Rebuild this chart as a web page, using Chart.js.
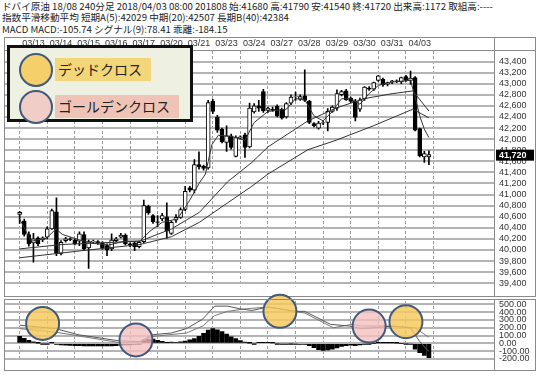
<!DOCTYPE html>
<html>
<head>
<meta charset="utf-8">
<script src="https://cdn.jsdelivr.net/npm/chart.js@4.4.0/dist/chart.umd.min.js"></script>
<style>
  body { margin: 0; width: 541px; height: 382px; position: relative; overflow: hidden; background: #fff;
         font-family: "Noto Sans CJK JP", sans-serif; }
  .hdr { position: absolute; left: 2px; font-size: 9.6px; line-height: 11px; color: #222; white-space: nowrap; }
  canvas { position: absolute; left: 4px; }
  #main { top: 37px; }
  #macd { top: 280px; }
  #legend { position: absolute; left: 7px; top: 45px; width: 180px; height: 71px; border: 3px solid #111;
            background: #eef0e2; }
  .dot { position: absolute; left: 9px; width: 30px; height: 30px; border-radius: 50%; border: 2px solid #41597a; }
  .tag { position: absolute; left: 45px; height: 23px; line-height: 23px; font-size: 14px; color: #222; padding: 0 9px 0 3px; }
</style>
</head>
<body>
<div class="hdr" style="top:1px">ドバイ原油 18/08 240分足 2018/04/03 08:00 201808 始:41680 高:41790 安:41540 終:41720 出来高:1172 取組高:----</div>
<div class="hdr" style="top:12px">指数平滑移動平均 短期A(5):42029 中期(20):42507 長期B(40):42384</div>
<div class="hdr" style="top:24px">MACD MACD:-105.74 シグナル(9):78.41 乖離:-184.15</div>
<canvas id="main" width="532" height="260"></canvas>
<canvas id="macd" width="532" height="91"></canvas>
<div id="legend">
  <div class="dot" style="top:5px;background:#f5cf6a"></div>
  <div class="tag" style="top:10px;background:#f3d67a">デッドクロス</div>
  <div class="dot" style="top:42px;background:#f0cdc6"></div>
  <div class="tag" style="top:47px;background:#efc4b6">ゴールデンクロス</div>
</div>
<script>
// trading days (label sits on the first 4h bar of the day)
const dayLabels = ['03/13','03/14','03/15','03/16','03/17','03/20','03/21','03/23','03/24','03/27','03/28','03/29','03/30','03/31','04/03'];
const dayStart = [3, 9, 15, 21, 27, 33, 39, 45, 51, 57, 63, 69, 75, 81, 87];

// 240-minute bars
const opens = [40640,40520,40280,40130,40220,40180,40230,40380,40690,39940,
  40170,40200,40180,40160,40280,40040,40150,40150,40120,40080,
  40020,40170,40230,40270,40110,40130,40060,40150,40790,40620,
  40510,40560,40600,40300,40540,40590,40730,41120,41080,41540,
  41510,41480,42680,42400,42180,41940,42060,41690,42020,42080,
  41860,42490,42600,42860,42520,42540,42590,42540,42400,42650,
  42760,42720,42780,42680,42280,42200,42290,42300,42500,42560,
  42800,42870,42740,42680,42540,42730,42920,42900,43060,43080,
  42990,43030,43050,43030,43130,43060,43110,42190,41680,41680];
const highs = [40700,40560,40330,40300,40240,40240,40420,40740,40940,40170,
  40230,40220,40200,40330,40330,40180,40180,40170,40150,40110,
  40290,40230,40300,40290,40130,40150,40160,40900,40810,40640,
  40620,40660,40850,40520,40640,40760,41150,41150,41630,41770,
  41530,42700,42720,42430,42200,42240,42090,42060,42060,42110,
  42650,42640,42700,42900,42580,42580,42620,42560,42660,42800,
  42850,42800,43250,42700,42300,42320,42330,42550,42600,42890,
  42880,42900,42760,42720,42740,42950,42950,43030,43150,43100,
  43030,43060,43070,43120,43150,43230,43130,42200,41780,41790];
const lows = [40480,40250,40070,39780,40080,40150,40200,40370,39900,39910,
  40140,40170,40090,40080,39990,39670,40120,40100,40010,39900,
  39990,40150,40220,40090,40060,39990,40040,40130,40640,40480,
  40420,40530,40210,40280,40500,40570,40710,41050,41030,41460,
  41440,41460,42460,42120,41930,41780,41820,41680,42000,41670,
  41840,42470,42500,42480,42480,42500,42400,42360,42380,42620,
  42700,42700,42680,42280,42220,42180,42260,42150,42480,42520,
  42780,42700,42660,42330,42500,42700,42880,42880,43040,42950,
  42960,43000,43020,43000,43040,42990,42150,41680,41580,41540];
const closes = [40680,40280,40110,40200,40110,40220,40380,40710,39940,40140,
  40200,40190,40110,40290,40020,40150,40160,40130,40040,40000,
  40180,40200,40270,40110,40090,40060,40140,40800,40670,40510,
  40500,40620,40340,40500,40590,40730,41060,41080,41540,41500,
  41470,42660,42500,42160,41950,42060,41850,42030,42040,41850,
  42560,42600,42560,42510,42560,42520,42420,42380,42640,42760,
  42770,42770,42700,42300,42240,42290,42300,42500,42580,42820,
  42860,42710,42680,42390,42710,42940,42900,43020,43140,42980,
  43020,43050,43040,43110,43060,43100,42160,41700,41740,41720];

// moving averages: [bar, price]
const ema5 = [[0,40560],[2.5,40160],[5.8,40210],[7.9,40380],[9.3,40280],[12.7,40190],[16,40120],[19.4,40090],
  [22.9,40160],[26.2,40160],[28.2,40330],[31,40500],[34.3,40560],[37,40900],[39,41200],[40.4,41370],
  [41.8,41900],[43.2,42070],[46,42050],[49,41980],[51,42300],[54,42500],[58,42540],[60,42730],[62,42710],
  [64,42420],[66,42330],[68,42500],[70,42730],[72,42730],[74,42630],[76,42820],[78,42970],[81,43030],
  [85,43060],[86,42760],[87,42420],[88,42180],[89,42029]];
const ema20 = [[0,40020],[9.3,40100],[26.2,40160],[33,40380],[39.1,40680],[45.2,41230],[50.5,41580],[54,41860],
  [62.7,42330],[68.8,42560],[74.9,42730],[81,42820],[85.5,42870],[89,42507]];
const ema40 = [[0,39860],[12.7,39980],[26.2,40100],[33,40240],[39.1,40500],[45.2,40850],[50.5,41150],[54,41370],
  [62.7,41810],[68.8,41980],[76.9,42240],[85.5,42540],[89,42384]];

// MACD panel
const macdLine = [[0,233],[7.8,189],[12.7,111],[21.5,33],[26.1,22],[29,111],[33,133],[36.3,189],[39.8,311],
  [42.4,478],[45.2,478],[47.9,444],[50.5,422],[54,467],[60,411],[62,411],[67.6,244],[71.7,222],[74.3,189],
  [77,200],[81,222],[85,200],[87,22],[89,-105.74]];
const signalLine = [[0,189],[7.8,144],[21.5,11],[26.1,22],[29,89],[36.3,133],[39.8,222],[42.4,356],[45.2,411],
  [49.3,444],[54,467],[62,389],[68.2,200],[72.3,244],[74.3,222],[81,222],[85.9,200],[89,78.41]];
const macdHist = [90,65,40,20,2,-8,-6,5,-12,-22,
  -25,-28,-30,-30,-32,-33,-33,-32,-33,-34,
  -32,-30,-25,-22,-20,-15,-10,35,50,55,
  40,25,10,15,12,20,30,45,60,90,
  130,170,190,175,150,120,85,60,35,15,
  2,-5,8,10,8,5,-8,-10,-10,-8,
  -10,-12,-15,-30,-55,-80,-90,-85,-75,-60,
  -40,-30,-25,-30,-20,-10,-5,0,5,6,
  4,5,3,0,-5,-10,-75,-120,-155,-184.15];

// dead / golden cross marks: [bar, MACD value]
const crossMarks = [{at: [5, 256], kind: 'dead'}, {at: [25.3, 44], kind: 'golden'}, {at: [56.6, 411], kind: 'dead'},
  {at: [76, 222], kind: 'golden'}, {at: [84, 278], kind: 'dead'}];

const tickFont = { family: 'Liberation Sans', size: 9 };
const xRange = { min: 0.15, max: 99.6 };
const pts = arr => arr.map(p => ({ x: p[0], y: p[1] }));

const framePlugin = {
  id: 'frame',
  afterDraw(chart, args, opts) {
    const { ctx, chartArea: a, width, height } = chart;
    ctx.save();
    ctx.strokeStyle = '#8a8a8a';
    ctx.lineWidth = 1;
    ctx.strokeRect(0.5, opts.top + 0.5, width - 1, height - opts.top - 1);
    ctx.beginPath();
    ctx.moveTo(Math.round(a.right) + 0.5, opts.top);
    ctx.lineTo(Math.round(a.right) + 0.5, height);
    if (opts.header) {
      ctx.moveTo(0, Math.round(a.top) - 0.5);
      ctx.lineTo(width, Math.round(a.top) - 0.5);
    }
    ctx.stroke();
    ctx.restore();
  }
};

const priceTag = {
  id: 'priceTag',
  afterDraw(chart) {
    const { ctx, chartArea: a, scales } = chart;
    const last = closes[closes.length - 1];
    const y = scales.y.getPixelForValue(last);
    ctx.save();
    ctx.fillStyle = '#000';
    ctx.fillRect(a.right + 2, y - 5, 38, 11);
    ctx.fillStyle = '#fff';
    ctx.font = 'bold 9px "Liberation Sans"';
    ctx.textBaseline = 'middle';
    ctx.fillText(last.toLocaleString('en-US'), a.right + 5, y + 0.5);
    ctx.restore();
  }
};

const crossPlugin = {
  id: 'cross',
  afterDatasetsDraw(chart) {
    const { ctx, scales } = chart;
    ctx.save();
    crossMarks.forEach(m => {
      const px = scales.x.getPixelForValue(m.at[0]);
      const py = scales.y.getPixelForValue(m.at[1]);
      ctx.beginPath();
      ctx.arc(px, py, 16.5, 0, Math.PI * 2);
      ctx.fillStyle = m.kind === 'dead' ? 'rgba(245,200,90,0.82)' : 'rgba(245,190,190,0.78)';
      ctx.fill();
      ctx.lineWidth = 2;
      ctx.strokeStyle = '#41597a';
      ctx.stroke();
    });
    ctx.restore();
  }
};

const dayAxis = (showLabels, height) => ({
  type: 'linear', min: xRange.min, max: xRange.max,
  position: showLabels ? 'top' : 'bottom',
  afterBuildTicks(s) { s.ticks = dayStart.map(v => ({ value: v })); },
  afterFit(s) { s.height = height; },
  ticks: { display: showLabels, autoSkip: false, maxRotation: 0, padding: 2, font: tickFont, color: '#333',
           callback: (v, i) => dayLabels[i] },
  grid: { color: '#9a9a9a', lineWidth: 1, drawTicks: false },
  border: { display: false, dash: [3, 2] }
});

const valueAxis = (min, max, step, fmt) => ({
  position: 'right', min: min, max: max,
  afterFit(s) { s.width = 42; },
  ticks: { stepSize: step, includeBounds: false, autoSkip: false, padding: 5, font: tickFont, color: '#333',
           callback: fmt },
  grid: { color: '#b4b4b4', lineWidth: 2, drawTicks: false },
  border: { display: false }
});

new Chart(document.getElementById('main'), {
  type: 'bar',
  data: {
    datasets: [
      { type: 'line', data: pts(ema5), borderColor: '#333', borderWidth: 1, pointRadius: 0, order: -3 },
      { type: 'line', data: pts(ema20), borderColor: '#333', borderWidth: 1, pointRadius: 0, order: -2 },
      { type: 'line', data: pts(ema40), borderColor: '#333', borderWidth: 1, pointRadius: 0, order: -1 },
      { data: opens.map((o, i) => ({ x: i, y: [lows[i], highs[i]] })), backgroundColor: '#000',
        barThickness: 1, grouped: false, order: 2 },
      { data: opens.map((o, i) => ({ x: i, y: [o, closes[i]] })),
        backgroundColor: c => closes[c.dataIndex] < opens[c.dataIndex] ? '#000' : '#fff',
        borderColor: '#000', borderWidth: 1, borderSkipped: false, barThickness: 4, grouped: false, order: 1 }
    ]
  },
  options: {
    responsive: false, animation: false,
    layout: { padding: 0 },
    plugins: { legend: { display: false }, tooltip: { enabled: false }, frame: { top: 0, header: true } },
    scales: {
      x: dayAxis(true, 14),
      y: valueAxis(39340, 43590, 200, v => v.toLocaleString('en-US'))
    }
  },
  plugins: [framePlugin, priceTag]
});

new Chart(document.getElementById('macd'), {
  type: 'bar',
  data: {
    datasets: [
      { type: 'line', data: pts(macdLine), borderColor: '#555', borderWidth: 1, pointRadius: 0, order: -2 },
      { type: 'line', data: pts(signalLine), borderColor: '#777', borderWidth: 1, pointRadius: 0, order: -1 },
      { data: macdHist.map((v, i) => ({ x: i, y: v })), backgroundColor: '#000', barThickness: 4, order: 1 }
    ]
  },
  options: {
    responsive: false, animation: false,
    layout: { padding: { top: 21, bottom: 1 } },
    plugins: { legend: { display: false }, tooltip: { enabled: false }, frame: { top: 19, header: false } },
    scales: {
      x: dayAxis(false, 0),
      y: valueAxis(-222, 544, 100, v => v.toFixed(2))
    }
  },
  plugins: [framePlugin, crossPlugin]
});
</script>
</body>
</html>
